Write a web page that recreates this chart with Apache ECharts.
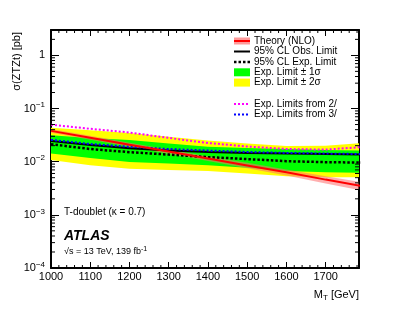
<!DOCTYPE html>
<html><head><meta charset="utf-8">
<script src="https://cdn.jsdelivr.net/npm/echarts@6/dist/echarts.min.js"></script>
<style>html,body{margin:0;padding:0;background:#fff}#c{width:399px;height:309px}</style>
</head><body><div id="c"></div>
<script>
const masses   = [1000, 1100, 1200, 1300, 1400, 1500, 1600, 1700, 1800];
const theory   = [0.038, 0.0282, 0.0209, 0.0155, 0.0115, 0.0085, 0.0063, 0.0046, 0.0034];
const theoryUp = [0.041, 0.0306, 0.0228, 0.0170, 0.0127, 0.0095, 0.0071, 0.0053, 0.0040];
const theoryDn = [0.035, 0.0258, 0.0190, 0.0140, 0.0103, 0.0075, 0.0055, 0.0039, 0.0028];
const obsLimit = [0.0246, 0.0207, 0.0178, 0.0162, 0.0152, 0.0146, 0.0142, 0.0139, 0.0136];
const expLimit = [0.0213, 0.0173, 0.0151, 0.0136, 0.0122, 0.0112, 0.0102, 0.0098, 0.0096];
const exp1sUp  = [0.0313, 0.0280, 0.0257, 0.0220, 0.0191, 0.0181, 0.0173, 0.0166, 0.0162];
const exp1sDn  = [0.0143, 0.0117, 0.0099, 0.0092, 0.0086, 0.0077, 0.0067, 0.0063, 0.0062];
const exp2sUp  = [0.0434, 0.0390, 0.0345, 0.0293, 0.0249, 0.0220, 0.0197, 0.0200, 0.0225];
const exp2sDn  = [0.0107, 0.0086, 0.0074, 0.0070, 0.0067, 0.0060, 0.0053, 0.0051, 0.0051];
const exp2l    = [0.0496, 0.0416, 0.0354, 0.0280, 0.0225, 0.0193, 0.0173, 0.0169, 0.0190];
const exp3l    = [0.0257, 0.0215, 0.0191, 0.0173, 0.0162, 0.0152, 0.0146, 0.0142, 0.0139];

const xMin = 1000, xMax = 1785, yMin = 1e-4, yMax = 3;
const xMinorTicks = [];
for (let v = 1020; v < xMax; v += 20) if (v % 100 !== 0) xMinorTicks.push(v);
const yMinorTicks = [];
for (let e = -4; e <= 0; e++) for (let k = 2; k <= 9; k++) { const v = k * Math.pow(10, e); if (v < yMax) yMinorTicks.push(v); }

const FF = 'Liberation Sans';
const pts = arr => masses.map((m, i) => [m, arr[i]]);

function band(name, up, dn, color, z) {
  return {
    type: 'custom', name, clip: true, silent: true, z,
    data: [[masses[0], up[0]]],
    renderItem: (params, api) => {
      const p = [];
      for (let i = 0; i < masses.length; i++) p.push(api.coord([masses[i], up[i]]));
      for (let i = masses.length - 1; i >= 0; i--) p.push(api.coord([masses[i], dn[i]]));
      return { type: 'polygon', shape: { points: p }, style: { fill: color } };
    }
  };
}
function line(name, arr, color, width, dash, z) {
  return {
    type: 'line', name, data: pts(arr), showSymbol: false, clip: true, silent: true, z,
    lineStyle: { color, width, type: dash || 'solid', cap: 'butt' }
  };
}

const ticksSeries = {
  type: 'custom', silent: true, z: 20, clip: false,
  data: [[xMin, 1]],
  renderItem: (params, api) => {
    const cs = params.coordSys;
    const L = cs.x, R = cs.x + cs.width, T = cs.y, B = cs.y + cs.height;
    const ch = [];
    const seg = (x1, y1, x2, y2) => ch.push({ type: 'line', shape: { x1, y1, x2, y2 }, style: { stroke: '#000', lineWidth: 1 } });
    xMinorTicks.forEach(v => { const x = api.coord([v, 1])[0]; seg(x, B, x, B - 3); seg(x, T, x, T + 3); });
    yMinorTicks.forEach(v => { const y = api.coord([xMin, v])[1]; seg(L, y, L + 4, y); seg(R, y, R - 4, y); });
    return { type: 'group', children: ch };
  }
};

const axisLineStyle = { show: true, onZero: false, lineStyle: { color: '#000', width: 2 } };
const chart = echarts.init(document.getElementById('c'), null, { renderer: 'canvas' });

const legendRows = [
  { y: 41, text: 'Theory (NLO)' },
  { y: 51.5, text: '95% CL Obs. Limit' },
  { y: 62, text: '95% CL Exp. Limit' },
  { y: 72.3, text: 'Exp. Limit \u00b1 1\u03c3' },
  { y: 82.6, text: 'Exp. Limit \u00b1 2\u03c3' },
  { y: 104, text: 'Exp. Limits from 2/' },
  { y: 114.5, text: 'Exp. Limits from 3/' }
];
const LX = 234, LW = 16, TX = 254;
const graphics = [
  { type: 'rect', shape: { x: LX, y: 37.5, width: LW, height: 7 }, style: { fill: '#ff9a9a' } },
  { type: 'line', shape: { x1: LX, y1: 41, x2: LX + LW, y2: 41 }, style: { stroke: '#ff0000', lineWidth: 2 } },
  { type: 'line', shape: { x1: LX, y1: 51.5, x2: LX + LW, y2: 51.5 }, style: { stroke: '#000', lineWidth: 2 } },
  { type: 'line', shape: { x1: LX, y1: 62, x2: LX + LW, y2: 62 }, style: { stroke: '#000', lineWidth: 2.5, lineDash: [2.5, 2] } },
  { type: 'rect', shape: { x: LX, y: 68.3, width: LW, height: 8 }, style: { fill: '#00ff00' } },
  { type: 'rect', shape: { x: LX, y: 78.6, width: LW, height: 8 }, style: { fill: '#ffff00' } },
  { type: 'line', shape: { x1: LX, y1: 104, x2: LX + LW, y2: 104 }, style: { stroke: '#ff00ff', lineWidth: 2, lineDash: [2, 2] } },
  { type: 'line', shape: { x1: LX, y1: 114.5, x2: LX + LW, y2: 114.5 }, style: { stroke: '#0000ff', lineWidth: 2, lineDash: [2, 2] } }
];
legendRows.forEach(r => graphics.push({ type: 'text', x: TX, y: r.y, style: { text: r.text, fontSize: 10, fontFamily: FF, fill: '#000', align: 'left', verticalAlign: 'middle' } }));
graphics.push(
  { type: 'text', x: 17, y: 32, rotation: Math.PI / 2, style: { text: '\u03c3(ZTZt) [pb]', fontSize: 11, fontFamily: FF, fill: '#000', align: 'right', verticalAlign: 'middle' } },
  { type: 'text', x: 359, y: 295, style: { text: 'M{s|T} [GeV]', fontSize: 11, fontFamily: FF, fill: '#000', align: 'right', verticalAlign: 'middle', rich: { s: { fontSize: 8, fontFamily: FF, padding: [6, 0, 0, 0] } } } },
  { type: 'text', x: 64, y: 212.7, style: { text: 'T-doublet (\u03ba = 0.7)', fontSize: 10, fontFamily: FF, fill: '#000', align: 'left', verticalAlign: 'middle' } },
  { type: 'text', x: 64, y: 236, style: { text: 'ATLAS', fontSize: 14, fontWeight: 'bold', fontStyle: 'italic', fontFamily: FF, fill: '#000', align: 'left', verticalAlign: 'middle' } },
  { type: 'text', x: 64, y: 252, style: { text: '\u221as = 13 TeV, 139 fb{p|-1}', fontSize: 9, fontFamily: FF, fill: '#000', align: 'left', verticalAlign: 'middle', rich: { p: { fontSize: 7, fontFamily: FF, padding: [0, 0, 6, 0] } } } }
);

chart.setOption({
  animation: false,
  backgroundColor: '#fff',
  grid: { left: 51, right: 40, top: 30, bottom: 41, containLabel: false },
  xAxis: [
    { type: 'value', position: 'bottom', min: xMin, max: xMax, interval: 100,
      axisLine: axisLineStyle, splitLine: { show: false },
      axisTick: { show: true, inside: true, length: 6, lineStyle: { color: '#000', width: 1 } },
      axisLabel: { show: true, showMaxLabel: false, margin: 3, fontSize: 11, fontFamily: FF, color: '#000', hideOverlap: false,
        formatter: v => String(v) } },
    { type: 'value', position: 'top', min: xMin, max: xMax, interval: 100,
      axisLine: axisLineStyle, splitLine: { show: false },
      axisTick: { show: true, inside: true, length: 6, lineStyle: { color: '#000', width: 1 } },
      axisLabel: { show: false } }
  ],
  yAxis: [
    { type: 'log', logBase: 10, position: 'left', min: yMin, max: yMax, interval: 1,
      axisLine: axisLineStyle, splitLine: { show: false },
      axisTick: { show: true, inside: true, length: 8, lineStyle: { color: '#000', width: 1 } },
      axisLabel: { show: true, showMaxLabel: false, margin: 6, fontSize: 11, fontFamily: FF, color: '#000', hideOverlap: false,
        formatter: v => { const e = Math.round(Math.log10(v)); return e === 0 ? '1' : '10{s|\u2212' + (-e) + '}'; },
        rich: { s: { fontSize: 8, fontFamily: FF, padding: [0, 0, 7, 0] } } } },
    { type: 'log', logBase: 10, position: 'right', min: yMin, max: yMax, interval: 1,
      axisLine: axisLineStyle, splitLine: { show: false },
      axisTick: { show: true, inside: true, length: 8, lineStyle: { color: '#000', width: 1 } },
      axisLabel: { show: false } }
  ],
  graphic: graphics,
  series: [
    band('Exp. Limit \u00b1 2\u03c3', exp2sUp, exp2sDn, '#ffff00', 1),
    band('Exp. Limit \u00b1 1\u03c3', exp1sUp, exp1sDn, '#00ff00', 2),
    band('Theory band', theoryUp, theoryDn, 'rgba(255,110,110,0.55)', 3),
    line('95% CL Exp. Limit', expLimit, '#000000', 2.5, [2.5, 2], 5),
    line('95% CL Obs. Limit', obsLimit, '#000000', 2, 'solid', 6),
    line('Exp. Limits from 3/', exp3l, '#0000ff', 2, [2, 2], 7),
    line('Exp. Limits from 2/', exp2l, '#ff00ff', 2, [2, 2], 7),
    line('Theory (NLO)', theory, '#ff0000', 2, 'solid', 8),
    ticksSeries
  ]
});
</script></body></html>
